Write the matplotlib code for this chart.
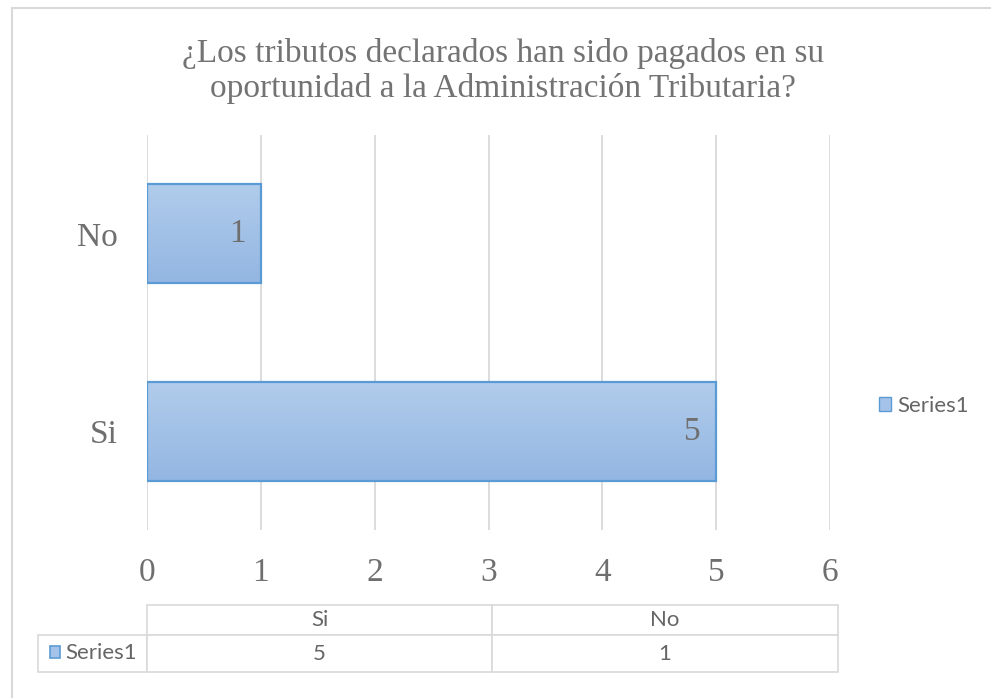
import matplotlib.pyplot as plt
import numpy as np
from matplotlib.colors import LinearSegmentedColormap
from matplotlib.patches import Patch, Rectangle
from matplotlib.table import Table

# data
categories = ["Si", "No"]
values = [5, 1]
series_name = "Series1"
title = "¿Los tributos declarados han sido pagados en su\noportunidad a la Administración Tributaria?"

serif = "Liberation Serif"
sans = "Lato"
gray = "#6f6f6f"
grid_c = "#d9d9d9"
edge_c = "#5b9bd5"

fig = plt.figure(figsize=(9.91, 6.98), dpi=100)
W, H = 991, 698

# plot area in pixels: x 147..830, y 135..530
ax = fig.add_axes([147 / W, 1 - 530 / H, 683 / W, 395 / H])

ypos = np.arange(len(categories))
bars = ax.barh(ypos, values, height=0.5, facecolor="none",
               edgecolor=edge_c, linewidth=1.6, zorder=3)

# gradient fill for each bar
cmap = LinearSegmentedColormap.from_list("grad", ["#93b6e2", "#b1cceb"])
grad = np.linspace(0, 1, 100).reshape(-1, 1)
for b in bars:
    x0, y0 = b.get_x(), b.get_y()
    ax.imshow(grad, extent=[x0, x0 + b.get_width(), y0, y0 + b.get_height()],
              origin="lower", cmap=cmap, aspect="auto", zorder=2)

# value labels inside end
for y, v in zip(ypos, values):
    ax.annotate(str(v), xy=(v, y), xytext=(-11, 0), textcoords="offset points",
                ha="right", va="center", fontsize=24, family=serif, color=gray,
                zorder=4)

ax.set_xlim(0, 6)
ax.set_ylim(-0.5, 1.5)
ax.set_xticks(range(0, 7))
ax.set_yticks(ypos)
ax.set_yticklabels(categories)
ax.grid(axis="x", color=grid_c, linewidth=1.3, zorder=0)
ax.set_axisbelow(True)
for s in ax.spines.values():
    s.set_visible(False)
ax.tick_params(length=0, labelsize=24, labelcolor=gray)
ax.tick_params(axis="x", pad=20)
ax.tick_params(axis="y", pad=21)
for lbl in ax.get_xticklabels() + ax.get_yticklabels():
    lbl.set_family(serif)

# title
fig.text(503 / W, 1 - 71 / H, title, ha="center", va="center", fontsize=24,
         family=serif, color="#737373", linespacing=1.2)

# legend
handle = Patch(facecolor="#a5c3e8", edgecolor=edge_c, label=series_name)
fig.legend(handles=[handle], loc="center left",
           bbox_to_anchor=(879 / W, 1 - 406 / H), frameon=False, borderpad=0,
           borderaxespad=0,
           prop={"family": sans, "size": 16}, labelcolor="#666666",
           handlelength=0.55, handleheight=0.55, handletextpad=0.28)

# data table under the chart
tax = fig.add_axes([38 / W, 1 - 672 / H, 800 / W, 67 / H])
tax.axis("off")
tbl = Table(tax, bbox=[0, 0, 1, 1])
col_w = [109, 345, 346]
row_h = [30, 37]
for j, cat in enumerate(categories):
    tbl.add_cell(0, j + 1, width=col_w[j + 1], height=row_h[0], text=cat, loc="center")
tbl.add_cell(1, 0, width=col_w[0], height=row_h[1], text="", loc="left")
for j, v in enumerate(values):
    tbl.add_cell(1, j + 1, width=col_w[j + 1], height=row_h[1], text=str(v), loc="center")
tbl.auto_set_font_size(False)
tbl.set_fontsize(16)
for cell in tbl.get_celld().values():
    cell.set_edgecolor(grid_c)
    cell.set_linewidth(1.2)
    cell.get_text().set_color("#666666")
    cell.get_text().set_family(sans)
tax.add_table(tbl)

# row label of the table: swatch + series name
tax.add_patch(Rectangle((12 / 800, 14 / 67), 10 / 800, 12 / 67,
                        facecolor="#a5c3e8", edgecolor=edge_c, linewidth=1.2))
tax.text(27 / 800, 19 / 67, series_name, ha="left", va="center", fontsize=16,
         family=sans, color="#666666")

# outer chart border (left and top visible)
fig.patches.append(Rectangle((12 / W, -0.1), 1.2, 1.1 - 8 / H, transform=fig.transFigure,
                             fill=False, edgecolor=grid_c, linewidth=1.5))

fig.savefig("out.png", dpi=100)
